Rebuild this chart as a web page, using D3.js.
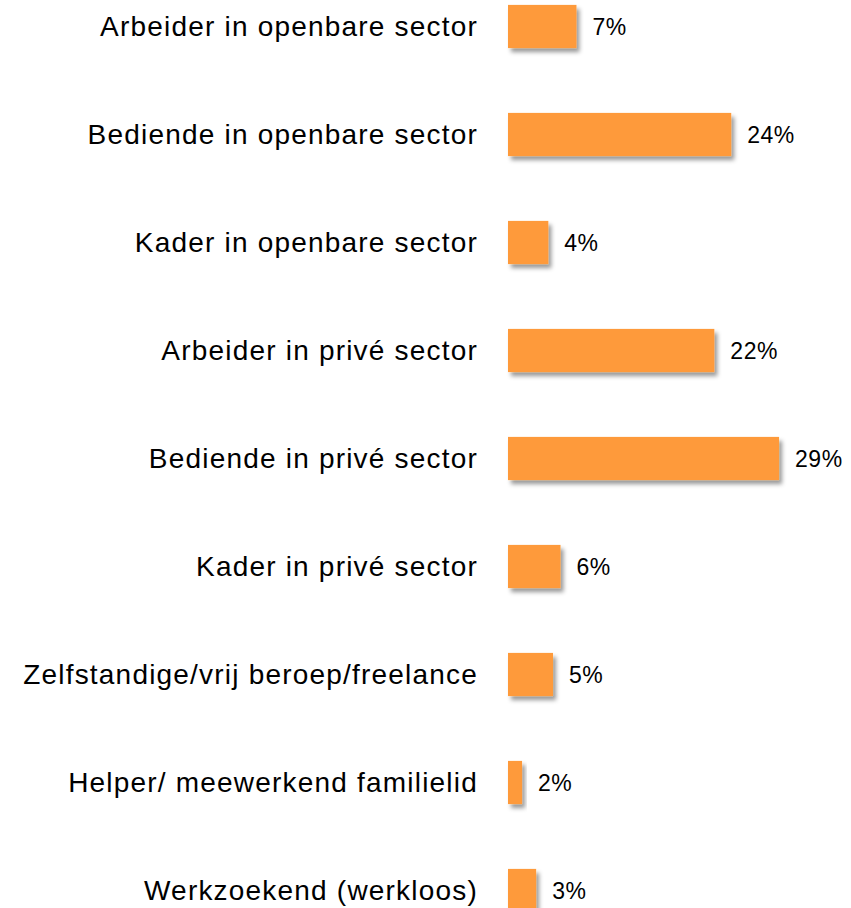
<!DOCTYPE html>
<html>
<head>
<meta charset="utf-8">
<script src="https://cdn.jsdelivr.net/npm/d3@7"></script>
<style>
  body { margin: 0; background: #fff; }
  text { font-family: "Liberation Sans", Arial, sans-serif; fill: #000; }
</style>
</head>
<body>
<div id="chart"></div>
<script>
// categories and values
var categories = [
	"Arbeider in openbare sector",
	"Bediende in openbare sector",
	"Kader in openbare sector",
	"Arbeider in privé sector",
	"Bediende in privé sector",
	"Kader in privé sector",
	"Zelfstandige/vrij beroep/freelance",
	"Helper/ meewerkend familielid",
	"Werkzoekend (werkloos)"
];
var values = [7.3, 23.8, 4.3, 22.0, 28.9, 5.6, 4.8, 1.5, 3.0];

var svgWidth = 851;
var svgHeight = 908;

var data = categories.map(function(c, i) {
	return { name: c, value: values[i] };
});

var svg = d3.select("#chart")
	.append("svg")
	.attr("width", svgWidth)
	.attr("height", svgHeight);

// soft drop shadow under the bars
var filter = svg.append("defs").append("filter")
	.attr("id", "shadow")
	.attr("x", "-20%").attr("y", "-20%")
	.attr("width", "150%").attr("height", "160%");
filter.append("feDropShadow")
	.attr("dx", 3)
	.attr("dy", 4)
	.attr("stdDeviation", 2)
	.attr("flood-color", "#000")
	.attr("flood-opacity", 0.4);

var x0 = 508;
var xScale = d3.scaleLinear()
	.domain([0, 29])
	.range([0, 272]);

var yScale = d3.scaleBand()
	.domain(categories)
	.range([-27.5, 944.5])
	.paddingInner(0.6)
	.paddingOuter(0.3);

var rows = svg.selectAll("g.row")
	.data(data)
	.enter()
	.append("g")
	.attr("class", "row");

rows.append("rect")
	.attr("x", x0)
	.attr("y", d => yScale(d.name))
	.attr("width", d => xScale(d.value))
	.attr("height", yScale.bandwidth())
	.attr("fill", "#fe9a3a")
	.attr("filter", "url(#shadow)");

// category labels, right aligned next to the bars
rows.append("text")
	.attr("x", x0 - 30)
	.attr("y", d => yScale(d.name) + yScale.bandwidth() / 2)
	.attr("dy", "0.35em")
	.attr("text-anchor", "end")
	.style("font-size", "28px")
	.style("letter-spacing", "1.2px")
	.text(d => d.name);

rows.append("text")
	.attr("x", d => x0 + xScale(d.value) + 16)
	.attr("y", d => yScale(d.name) + yScale.bandwidth() / 2)
	.attr("dy", "0.35em")
	.style("font-size", "23px")
	.style("letter-spacing", "0.5px")
	.text(d => d3.format(".0f")(d.value) + "%");
</script>
</body>
</html>
